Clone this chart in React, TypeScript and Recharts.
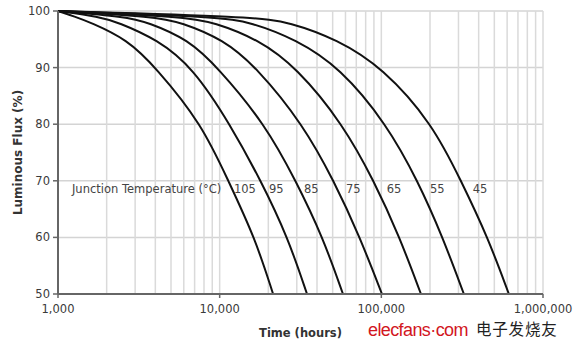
import {
	ComposedChart,
	Line,
	Scatter,
	XAxis,
	YAxis,
	CartesianGrid,
	ReferenceLine,
} from "recharts";

// luminous flux levels (%) at which each curve was read
const fluxLevels = [100, 99, 98, 95, 90, 80, 70, 60, 50];

// hours at each flux level, per junction temperature
const hours105 = [1000, 1270, 1580, 2670, 4040, 7770, 11300, 16500, 21400];
const hours95 = [1000, 1810, 2350, 4100, 6840, 11600, 18000, 26400, 34700];
const hours85 = [1000, 2630, 3600, 6370, 9770, 19100, 29600, 43500, 57900];
const hours75 = [1000, 4010, 5760, 10500, 17000, 32700, 50900, 73800, 100900];
const hours65 = [1000, 6100, 9220, 17300, 30000, 57900, 90000, 130000, 175800];
const hours55 = [1000, 9830, 15600, 29600, 55500, 108000, 168000, 240000, 324000];
const hours45 = [1000, 16300, 27200, 53100, 102000, 208000, 311000, 456000, 615000];

const temperatures = ["105", "95", "85", "75", "65", "55", "45"];
const seriesHours = [hours105, hours95, hours85, hours75, hours65, hours55, hours45];

// annotation text positions (hours) along the 68.5% line
const labelTexts = ["Junction Temperature (°C)", ...temperatures];
const labelHours = [1220, 12250, 20200, 33200, 60400, 108000, 200000, 368000];
const labelFlux = 68.5;

const xTicks = [1000, 10000, 100000, 1000000];
const yTicks = [50, 60, 70, 80, 90, 100];
const gridHours = [
	2000, 3000, 4000, 5000, 6000, 7000, 8000, 9000, 10000,
	20000, 30000, 40000, 50000, 60000, 70000, 80000, 90000, 100000,
	200000, 300000, 400000, 500000, 600000, 700000, 800000, 900000, 1000000,
];

const series = seriesHours.map((hrs) =>
	hrs.map((t, i) => ({ t, flux: fluxLevels[i] }))
);
const labelData = labelHours.map((t, i) => ({ t, flux: labelFlux, text: labelTexts[i] }));

const font = "'DejaVu Sans', Verdana, sans-serif";

const LabelShape = (props: any) => (
	<text
		x={props.cx}
		y={props.cy}
		fontSize={11.5}
		fontFamily={font}
		fill="#444"
		dominantBaseline="central"
	>
		{props.payload.text}
	</text>
);

export default function App() {
	return (
		<div
			style={{
				position: "absolute",
				left: 0,
				top: 0,
				width: 573,
				height: 343,
				background: "#fff",
			}}
		>
			<ComposedChart
				width={573}
				height={343}
				margin={{ top: 11, right: 30, bottom: 0, left: 0 }}
			>
				<CartesianGrid
					vertical={false}
					stroke="#d4d4d4"
					strokeWidth={1.5}
				/>
				{gridHours.map((h) => (
					<ReferenceLine
						key={h}
						x={h}
						stroke="#dadada"
						strokeWidth={1.5}
					/>
				))}
				<XAxis
					dataKey="t"
					type="number"
					scale="log"
					domain={[1000, 1000000]}
					ticks={xTicks}
					interval={0}
					height={49}
					tickFormatter={(v: number) => v.toLocaleString("en-US")}
					tick={{ fill: "#3a3a3a", fontSize: 11.5, fontFamily: font }}
					tickSize={4}
					tickMargin={7}
					axisLine={{ stroke: "#666", strokeWidth: 2 }}
					tickLine={{ stroke: "#666", strokeWidth: 1.5 }}
					label={{
						value: "Time (hours)",
						position: "insideBottom",
						offset: 6,
						fill: "#333",
						fontSize: 11.5,
						fontWeight: "bold",
						fontFamily: font,
					}}
				/>
				<YAxis
					type="number"
					domain={[50, 100]}
					ticks={yTicks}
					width={58}
					tick={{ fill: "#3a3a3a", fontSize: 11.5, fontFamily: font }}
					tickSize={5}
					tickMargin={3}
					axisLine={{ stroke: "#666", strokeWidth: 2 }}
					tickLine={{ stroke: "#666", strokeWidth: 1.5 }}
					label={{
						value: "Luminous Flux (%)",
						angle: -90,
						position: "insideLeft",
						offset: 18,
						fill: "#333",
						fontSize: 12,
						fontWeight: "bold",
						fontFamily: font,
						style: { textAnchor: "middle" },
					}}
				/>
				{series.map((d, i) => (
					<Line
						key={temperatures[i]}
						data={d}
						dataKey="flux"
						type="basis"
						stroke="#111"
						strokeWidth={2}
						dot={false}
						isAnimationActive={false}
					/>
				))}
				<Scatter
					data={labelData}
					dataKey="flux"
					shape={LabelShape}
					isAnimationActive={false}
				/>
			</ComposedChart>
			{/* watermark, nudged below the tick labels */}
			<svg
				width={573}
				height={343}
				style={{ position: "absolute", left: 0, top: 0, pointerEvents: "none" }}
			>
				<text
					x={368}
					y={336}
					fontSize={18}
					letterSpacing={-0.6}
					fontFamily="'Liberation Sans', Arial, sans-serif"
					fill="#d2161e"
				>
					elecfans·com
				</text>
				<text
					x={476}
					y={335}
					fontSize={15.5}
					letterSpacing={0.8}
					fontFamily="'Noto Sans CJK SC', sans-serif"
					fill="#222"
				>
					电子发烧友
				</text>
			</svg>
		</div>
	);
}
